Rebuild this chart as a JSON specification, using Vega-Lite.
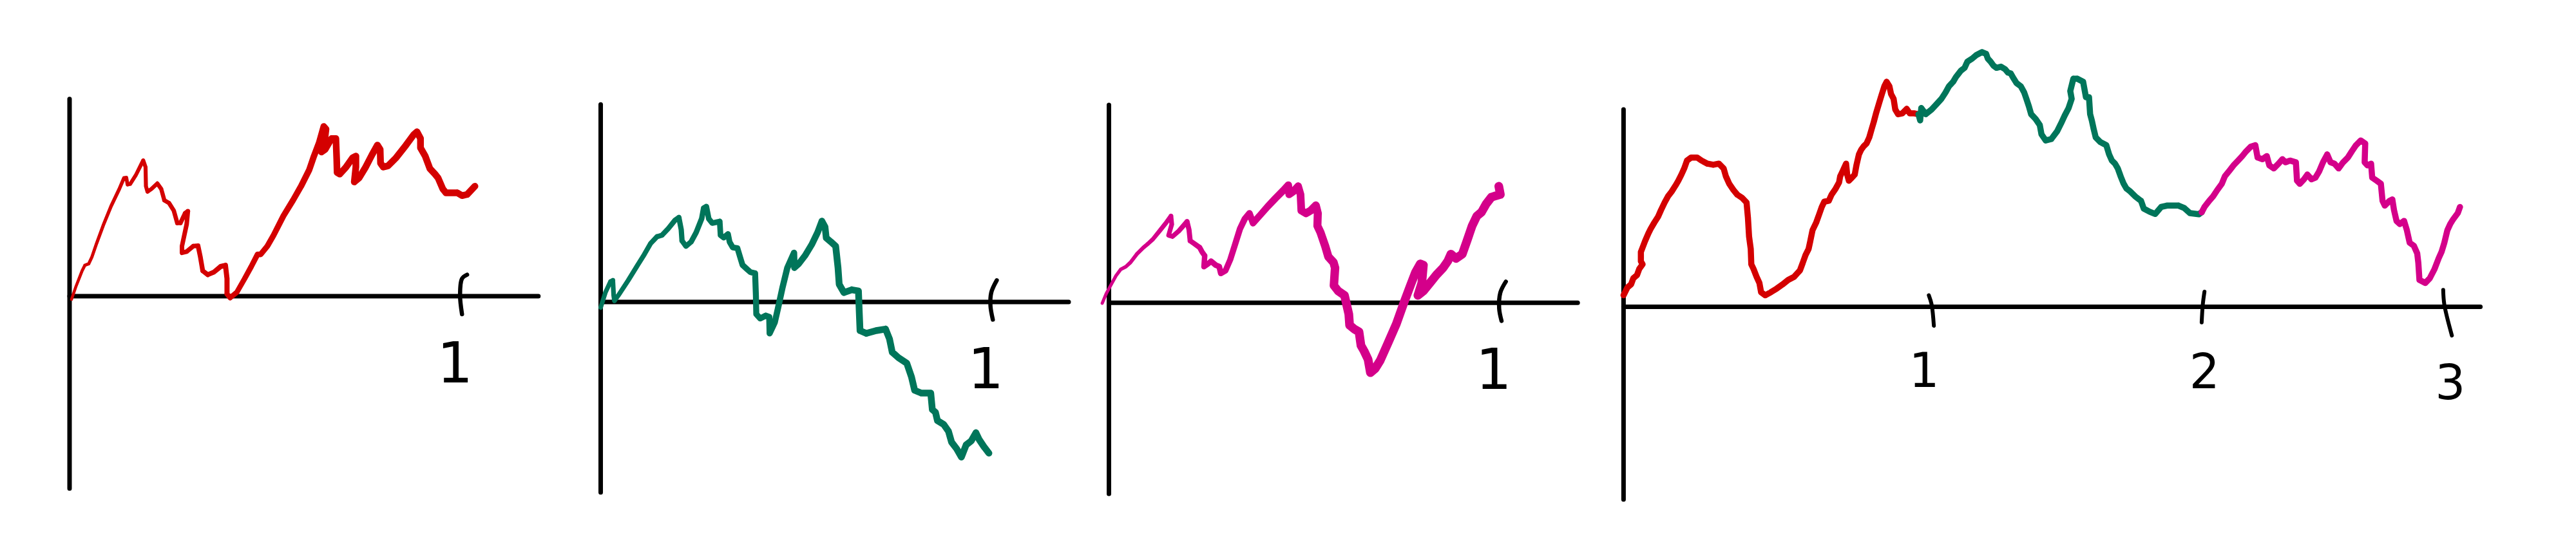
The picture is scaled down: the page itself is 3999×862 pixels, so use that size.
{
  "$schema": "https://vega.github.io/schema/vega-lite/v6.json",
  "padding": 0,
  "spacing": 0,
  "background": "white",
  "config": {"view": {"stroke": null}},
  "resolve": {"scale": {"x": "independent", "y": "independent", "size": "independent"}},
  "datasets": {
    "path1": [
      {"i":0,"t":0.005,"b":-0.008,"s":"1"},{"i":1,"t":0.016,"b":0.024,"s":"1"},{"i":2,"t":0.032,"b":0.065,"s":"1"},{"i":3,"t":0.039,"b":0.079,"s":"1"},
      {"i":4,"t":0.049,"b":0.083,"s":"1"},{"i":5,"t":0.057,"b":0.100,"s":"1"},{"i":6,"t":0.069,"b":0.135,"s":"1"},{"i":7,"t":0.086,"b":0.181,"s":"1"},
      {"i":8,"t":0.106,"b":0.230,"s":"1"},{"i":9,"t":0.127,"b":0.274,"s":"1"},{"i":10,"t":0.139,"b":0.302,"s":"1"},{"i":11,"t":0.145,"b":0.303,"s":"1"},
      {"i":12,"t":0.148,"b":0.285,"s":"1"},{"i":13,"t":0.155,"b":0.287,"s":"1"},{"i":14,"t":0.169,"b":0.309,"s":"1"},{"i":15,"t":0.188,"b":0.347,"s":"1"},
      {"i":16,"t":0.194,"b":0.330,"s":"1"},{"i":17,"t":0.195,"b":0.281,"s":"1"},{"i":18,"t":0.199,"b":0.267,"s":"1"},{"i":19,"t":0.209,"b":0.274,"s":"1"},
      {"i":20,"t":0.224,"b":0.288,"s":"1"},{"i":21,"t":0.234,"b":0.274,"s":"1"},{"i":22,"t":0.242,"b":0.245,"s":"1"},{"i":23,"t":0.254,"b":0.238,"s":"1"},
      {"i":24,"t":0.266,"b":0.219,"s":"1"},{"i":25,"t":0.275,"b":0.187,"s":"1"},{"i":26,"t":0.283,"b":0.187,"s":"1"},{"i":27,"t":0.295,"b":0.212,"s":"1"},
      {"i":28,"t":0.302,"b":0.217,"s":"1"},{"i":29,"t":0.299,"b":0.184,"s":"1"},{"i":30,"t":0.287,"b":0.128,"s":"1"},{"i":31,"t":0.287,"b":0.111,"s":"1"},
      {"i":32,"t":0.299,"b":0.114,"s":"1"},{"i":33,"t":0.316,"b":0.128,"s":"1"},{"i":34,"t":0.328,"b":0.129,"s":"1"},{"i":35,"t":0.334,"b":0.100,"s":"1"},
      {"i":36,"t":0.340,"b":0.065,"s":"1"},{"i":37,"t":0.353,"b":0.055,"s":"1"},{"i":38,"t":0.369,"b":0.062,"s":"1"},{"i":39,"t":0.386,"b":0.076,"s":"1"},
      {"i":40,"t":0.398,"b":0.079,"s":"1"},{"i":41,"t":0.402,"b":0.045,"s":"1"},{"i":42,"t":0.402,"b":0.006,"s":"1"},{"i":43,"t":0.410,"b":-0.004,"s":"1"},
      {"i":44,"t":0.427,"b":0.010,"s":"1"},{"i":45,"t":0.447,"b":0.045,"s":"1"},{"i":46,"t":0.464,"b":0.076,"s":"1"},{"i":47,"t":0.480,"b":0.107,"s":"1"},
      {"i":48,"t":0.488,"b":0.107,"s":"1"},{"i":49,"t":0.505,"b":0.128,"s":"1"},{"i":50,"t":0.521,"b":0.156,"s":"1"},{"i":51,"t":0.546,"b":0.205,"s":"1"},
      {"i":52,"t":0.571,"b":0.246,"s":"1"},{"i":53,"t":0.591,"b":0.281,"s":"1"},{"i":54,"t":0.612,"b":0.323,"s":"1"},{"i":55,"t":0.624,"b":0.358,"s":"1"},
      {"i":56,"t":0.637,"b":0.392,"s":"1"},{"i":57,"t":0.649,"b":0.434,"s":"1"},{"i":58,"t":0.655,"b":0.427,"s":"1"},{"i":59,"t":0.651,"b":0.392,"s":"1"},
      {"i":60,"t":0.643,"b":0.368,"s":"1"},{"i":61,"t":0.653,"b":0.375,"s":"1"},{"i":62,"t":0.669,"b":0.403,"s":"1"},{"i":63,"t":0.680,"b":0.403,"s":"1"},
      {"i":64,"t":0.682,"b":0.351,"s":"1"},{"i":65,"t":0.683,"b":0.316,"s":"1"},{"i":66,"t":0.690,"b":0.312,"s":"1"},{"i":67,"t":0.706,"b":0.330,"s":"1"},
      {"i":68,"t":0.723,"b":0.354,"s":"1"},{"i":69,"t":0.731,"b":0.358,"s":"1"},{"i":70,"t":0.731,"b":0.330,"s":"1"},{"i":71,"t":0.727,"b":0.292,"s":"1"},
      {"i":72,"t":0.739,"b":0.302,"s":"1"},{"i":73,"t":0.756,"b":0.330,"s":"1"},{"i":74,"t":0.772,"b":0.361,"s":"1"},{"i":75,"t":0.786,"b":0.386,"s":"1"},
      {"i":76,"t":0.793,"b":0.375,"s":"1"},{"i":77,"t":0.794,"b":0.340,"s":"1"},{"i":78,"t":0.801,"b":0.330,"s":"1"},{"i":79,"t":0.813,"b":0.333,"s":"1"},
      {"i":80,"t":0.834,"b":0.354,"s":"1"},{"i":81,"t":0.859,"b":0.386,"s":"1"},{"i":82,"t":0.879,"b":0.413,"s":"1"},{"i":83,"t":0.887,"b":0.420,"s":"1"},
      {"i":84,"t":0.896,"b":0.403,"s":"1"},{"i":85,"t":0.896,"b":0.379,"s":"1"},{"i":86,"t":0.908,"b":0.358,"s":"1"},{"i":87,"t":0.920,"b":0.326,"s":"1"},
      {"i":88,"t":0.933,"b":0.312,"s":"1"},{"i":89,"t":0.941,"b":0.302,"s":"1"},{"i":90,"t":0.953,"b":0.274,"s":"1"},{"i":91,"t":0.961,"b":0.264,"s":"1"},
      {"i":92,"t":0.990,"b":0.264,"s":"1"},{"i":93,"t":1.002,"b":0.257,"s":"1"},{"i":94,"t":1.015,"b":0.260,"s":"1"},{"i":95,"t":1.035,"b":0.281,"s":"1"}
    ],
    "path2": [
      {"i":0,"t":0.000,"b":-0.014,"s":"2"},{"i":1,"t":0.012,"b":0.024,"s":"2"},{"i":2,"t":0.025,"b":0.052,"s":"2"},{"i":3,"t":0.031,"b":0.055,"s":"2"},
      {"i":4,"t":0.033,"b":0.017,"s":"2"},{"i":5,"t":0.035,"b":0.003,"s":"2"},{"i":6,"t":0.045,"b":0.017,"s":"2"},{"i":7,"t":0.070,"b":0.055,"s":"2"},
      {"i":8,"t":0.094,"b":0.094,"s":"2"},{"i":9,"t":0.111,"b":0.121,"s":"2"},{"i":10,"t":0.127,"b":0.149,"s":"2"},{"i":11,"t":0.143,"b":0.166,"s":"2"},
      {"i":12,"t":0.156,"b":0.170,"s":"2"},{"i":13,"t":0.172,"b":0.187,"s":"2"},{"i":14,"t":0.189,"b":0.208,"s":"2"},{"i":15,"t":0.199,"b":0.215,"s":"2"},
      {"i":16,"t":0.205,"b":0.184,"s":"2"},{"i":17,"t":0.207,"b":0.156,"s":"2"},{"i":18,"t":0.217,"b":0.142,"s":"2"},{"i":19,"t":0.230,"b":0.153,"s":"2"},
      {"i":20,"t":0.243,"b":0.177,"s":"2"},{"i":21,"t":0.257,"b":0.212,"s":"2"},{"i":22,"t":0.262,"b":0.239,"s":"2"},{"i":23,"t":0.269,"b":0.243,"s":"2"},
      {"i":24,"t":0.275,"b":0.212,"s":"2"},{"i":25,"t":0.284,"b":0.201,"s":"2"},{"i":26,"t":0.303,"b":0.205,"s":"2"},{"i":27,"t":0.305,"b":0.170,"s":"2"},
      {"i":28,"t":0.313,"b":0.164,"s":"2"},{"i":29,"t":0.324,"b":0.173,"s":"2"},{"i":30,"t":0.328,"b":0.153,"s":"2"},{"i":31,"t":0.336,"b":0.139,"s":"2"},
      {"i":32,"t":0.348,"b":0.137,"s":"2"},{"i":33,"t":0.357,"b":0.107,"s":"2"},{"i":34,"t":0.361,"b":0.094,"s":"2"},{"i":35,"t":0.373,"b":0.083,"s":"2"},
      {"i":36,"t":0.381,"b":0.076,"s":"2"},{"i":37,"t":0.393,"b":0.073,"s":"2"},{"i":38,"t":0.395,"b":0.017,"s":"2"},{"i":39,"t":0.396,"b":-0.031,"s":"2"},
      {"i":40,"t":0.406,"b":-0.042,"s":"2"},{"i":41,"t":0.420,"b":-0.035,"s":"2"},{"i":42,"t":0.429,"b":-0.038,"s":"2"},{"i":43,"t":0.430,"b":-0.080,"s":"2"},
      {"i":44,"t":0.443,"b":-0.052,"s":"2"},{"i":45,"t":0.451,"b":-0.017,"s":"2"},{"i":46,"t":0.463,"b":0.038,"s":"2"},{"i":47,"t":0.475,"b":0.087,"s":"2"},
      {"i":48,"t":0.492,"b":0.125,"s":"2"},{"i":49,"t":0.493,"b":0.087,"s":"2"},{"i":50,"t":0.504,"b":0.097,"s":"2"},{"i":51,"t":0.520,"b":0.118,"s":"2"},
      {"i":52,"t":0.537,"b":0.146,"s":"2"},{"i":53,"t":0.552,"b":0.177,"s":"2"},{"i":54,"t":0.563,"b":0.206,"s":"2"},{"i":55,"t":0.571,"b":0.191,"s":"2"},
      {"i":56,"t":0.574,"b":0.163,"s":"2"},{"i":57,"t":0.586,"b":0.153,"s":"2"},{"i":58,"t":0.598,"b":0.142,"s":"2"},{"i":59,"t":0.604,"b":0.087,"s":"2"},
      {"i":60,"t":0.607,"b":0.045,"s":"2"},{"i":61,"t":0.619,"b":0.024,"s":"2"},{"i":62,"t":0.639,"b":0.031,"s":"2"},{"i":63,"t":0.656,"b":0.028,"s":"2"},
      {"i":64,"t":0.658,"b":-0.024,"s":"2"},{"i":65,"t":0.660,"b":-0.073,"s":"2"},{"i":66,"t":0.676,"b":-0.080,"s":"2"},{"i":67,"t":0.701,"b":-0.073,"s":"2"},
      {"i":68,"t":0.725,"b":-0.069,"s":"2"},{"i":69,"t":0.735,"b":-0.094,"s":"2"},{"i":70,"t":0.742,"b":-0.128,"s":"2"},{"i":71,"t":0.758,"b":-0.142,"s":"2"},
      {"i":72,"t":0.779,"b":-0.156,"s":"2"},{"i":73,"t":0.791,"b":-0.191,"s":"2"},{"i":74,"t":0.799,"b":-0.225,"s":"2"},{"i":75,"t":0.816,"b":-0.232,"s":"2"},
      {"i":76,"t":0.840,"b":-0.232,"s":"2"},{"i":77,"t":0.844,"b":-0.274,"s":"2"},{"i":78,"t":0.852,"b":-0.281,"s":"2"},{"i":79,"t":0.857,"b":-0.302,"s":"2"},
      {"i":80,"t":0.873,"b":-0.312,"s":"2"},{"i":81,"t":0.885,"b":-0.329,"s":"2"},{"i":82,"t":0.893,"b":-0.357,"s":"2"},{"i":83,"t":0.906,"b":-0.374,"s":"2"},
      {"i":84,"t":0.918,"b":-0.395,"s":"2"},{"i":85,"t":0.930,"b":-0.364,"s":"2"},{"i":86,"t":0.943,"b":-0.354,"s":"2"},{"i":87,"t":0.955,"b":-0.333,"s":"2"},
      {"i":88,"t":0.963,"b":-0.350,"s":"2"},{"i":89,"t":0.975,"b":-0.368,"s":"2"},{"i":90,"t":0.988,"b":-0.385,"s":"2"}
    ],
    "path3": [
      {"i":0,"t":-0.017,"b":-0.001,"s":"3"},{"i":1,"t":-0.007,"b":0.023,"s":"3"},{"i":2,"t":0.006,"b":0.047,"s":"3"},{"i":3,"t":0.018,"b":0.069,"s":"3"},
      {"i":4,"t":0.030,"b":0.085,"s":"3"},{"i":5,"t":0.043,"b":0.092,"s":"3"},{"i":6,"t":0.055,"b":0.103,"s":"3"},{"i":7,"t":0.071,"b":0.124,"s":"3"},
      {"i":8,"t":0.088,"b":0.141,"s":"3"},{"i":9,"t":0.100,"b":0.151,"s":"3"},{"i":10,"t":0.112,"b":0.162,"s":"3"},{"i":11,"t":0.129,"b":0.183,"s":"3"},
      {"i":12,"t":0.145,"b":0.203,"s":"3"},{"i":13,"t":0.158,"b":0.221,"s":"3"},{"i":14,"t":0.160,"b":0.200,"s":"3"},{"i":15,"t":0.152,"b":0.172,"s":"3"},
      {"i":16,"t":0.162,"b":0.169,"s":"3"},{"i":17,"t":0.178,"b":0.183,"s":"3"},{"i":18,"t":0.199,"b":0.207,"s":"3"},{"i":19,"t":0.204,"b":0.186,"s":"3"},
      {"i":20,"t":0.207,"b":0.158,"s":"3"},{"i":21,"t":0.217,"b":0.151,"s":"3"},{"i":22,"t":0.231,"b":0.141,"s":"3"},{"i":23,"t":0.237,"b":0.130,"s":"3"},
      {"i":24,"t":0.244,"b":0.120,"s":"3"},{"i":25,"t":0.242,"b":0.092,"s":"3"},{"i":26,"t":0.252,"b":0.099,"s":"3"},{"i":27,"t":0.260,"b":0.106,"s":"3"},
      {"i":28,"t":0.272,"b":0.096,"s":"3"},{"i":29,"t":0.281,"b":0.092,"s":"3"},{"i":30,"t":0.285,"b":0.075,"s":"3"},{"i":31,"t":0.297,"b":0.082,"s":"3"},
      {"i":32,"t":0.309,"b":0.110,"s":"3"},{"i":33,"t":0.322,"b":0.151,"s":"3"},{"i":34,"t":0.334,"b":0.189,"s":"3"},{"i":35,"t":0.346,"b":0.214,"s":"3"},
      {"i":36,"t":0.358,"b":0.228,"s":"3"},{"i":37,"t":0.367,"b":0.203,"s":"3"},{"i":38,"t":0.383,"b":0.221,"s":"3"},{"i":39,"t":0.404,"b":0.245,"s":"3"},
      {"i":40,"t":0.424,"b":0.266,"s":"3"},{"i":41,"t":0.445,"b":0.287,"s":"3"},{"i":42,"t":0.457,"b":0.300,"s":"3"},{"i":43,"t":0.459,"b":0.276,"s":"3"},
      {"i":44,"t":0.469,"b":0.283,"s":"3"},{"i":45,"t":0.482,"b":0.297,"s":"3"},{"i":46,"t":0.488,"b":0.276,"s":"3"},{"i":47,"t":0.490,"b":0.235,"s":"3"},
      {"i":48,"t":0.502,"b":0.228,"s":"3"},{"i":49,"t":0.514,"b":0.235,"s":"3"},{"i":50,"t":0.527,"b":0.248,"s":"3"},{"i":51,"t":0.532,"b":0.228,"s":"3"},
      {"i":52,"t":0.531,"b":0.196,"s":"3"},{"i":53,"t":0.539,"b":0.179,"s":"3"},{"i":54,"t":0.551,"b":0.144,"s":"3"},{"i":55,"t":0.559,"b":0.117,"s":"3"},
      {"i":56,"t":0.572,"b":0.103,"s":"3"},{"i":57,"t":0.576,"b":0.089,"s":"3"},{"i":58,"t":0.573,"b":0.044,"s":"3"},{"i":59,"t":0.584,"b":0.030,"s":"3"},
      {"i":60,"t":0.600,"b":0.019,"s":"3"},{"i":61,"t":0.611,"b":-0.029,"s":"3"},{"i":62,"t":0.613,"b":-0.057,"s":"3"},{"i":63,"t":0.625,"b":-0.067,"s":"3"},
      {"i":64,"t":0.637,"b":-0.074,"s":"3"},{"i":65,"t":0.642,"b":-0.109,"s":"3"},{"i":66,"t":0.650,"b":-0.123,"s":"3"},{"i":67,"t":0.660,"b":-0.144,"s":"3"},
      {"i":68,"t":0.666,"b":-0.178,"s":"3"},{"i":69,"t":0.678,"b":-0.168,"s":"3"},{"i":70,"t":0.691,"b":-0.147,"s":"3"},{"i":71,"t":0.711,"b":-0.102,"s":"3"},
      {"i":72,"t":0.732,"b":-0.054,"s":"3"},{"i":73,"t":0.752,"b":0.002,"s":"3"},{"i":74,"t":0.769,"b":0.047,"s":"3"},{"i":75,"t":0.781,"b":0.078,"s":"3"},
      {"i":76,"t":0.793,"b":0.099,"s":"3"},{"i":77,"t":0.801,"b":0.096,"s":"3"},{"i":78,"t":0.797,"b":0.051,"s":"3"},{"i":79,"t":0.787,"b":0.019,"s":"3"},
      {"i":80,"t":0.801,"b":0.030,"s":"3"},{"i":81,"t":0.818,"b":0.051,"s":"3"},{"i":82,"t":0.834,"b":0.071,"s":"3"},{"i":83,"t":0.851,"b":0.089,"s":"3"},
      {"i":84,"t":0.863,"b":0.106,"s":"3"},{"i":85,"t":0.871,"b":0.124,"s":"3"},{"i":86,"t":0.884,"b":0.113,"s":"3"},{"i":87,"t":0.900,"b":0.124,"s":"3"},
      {"i":88,"t":0.912,"b":0.158,"s":"3"},{"i":89,"t":0.925,"b":0.196,"s":"3"},{"i":90,"t":0.937,"b":0.221,"s":"3"},{"i":91,"t":0.949,"b":0.231,"s":"3"},
      {"i":92,"t":0.961,"b":0.252,"s":"3"},{"i":93,"t":0.974,"b":0.269,"s":"3"},{"i":94,"t":0.986,"b":0.273,"s":"3"},{"i":95,"t":0.997,"b":0.276,"s":"3"},
      {"i":96,"t":0.993,"b":0.297,"s":"3"}
    ],
    "path4": [
      {"i":0,"t":0.000,"b":0.041,"s":"1"},{"i":1,"t":0.014,"b":0.069,"s":"1"},{"i":2,"t":0.027,"b":0.080,"s":"1"},{"i":3,"t":0.035,"b":0.102,"s":"1"},
      {"i":4,"t":0.048,"b":0.113,"s":"1"},{"i":5,"t":0.056,"b":0.135,"s":"1"},{"i":6,"t":0.068,"b":0.152,"s":"1"},{"i":7,"t":0.062,"b":0.163,"s":"1"},
      {"i":8,"t":0.062,"b":0.196,"s":"1"},{"i":9,"t":0.077,"b":0.235,"s":"1"},{"i":10,"t":0.089,"b":0.263,"s":"1"},{"i":11,"t":0.097,"b":0.279,"s":"1"},
      {"i":12,"t":0.110,"b":0.301,"s":"1"},{"i":13,"t":0.124,"b":0.323,"s":"1"},{"i":14,"t":0.134,"b":0.346,"s":"1"},{"i":15,"t":0.147,"b":0.373,"s":"1"},
      {"i":16,"t":0.159,"b":0.395,"s":"1"},{"i":17,"t":0.172,"b":0.412,"s":"1"},{"i":18,"t":0.186,"b":0.434,"s":"1"},{"i":19,"t":0.196,"b":0.451,"s":"1"},
      {"i":20,"t":0.207,"b":0.473,"s":"1"},{"i":21,"t":0.217,"b":0.495,"s":"1"},{"i":22,"t":0.227,"b":0.523,"s":"1"},{"i":23,"t":0.242,"b":0.534,"s":"1"},
      {"i":24,"t":0.263,"b":0.534,"s":"1"},{"i":25,"t":0.279,"b":0.523,"s":"1"},{"i":26,"t":0.300,"b":0.512,"s":"1"},{"i":27,"t":0.321,"b":0.508,"s":"1"},
      {"i":28,"t":0.341,"b":0.512,"s":"1"},{"i":29,"t":0.358,"b":0.495,"s":"1"},{"i":30,"t":0.366,"b":0.467,"s":"1"},{"i":31,"t":0.378,"b":0.440,"s":"1"},
      {"i":32,"t":0.393,"b":0.418,"s":"1"},{"i":33,"t":0.407,"b":0.401,"s":"1"},{"i":34,"t":0.424,"b":0.390,"s":"1"},{"i":35,"t":0.440,"b":0.373,"s":"1"},
      {"i":36,"t":0.445,"b":0.318,"s":"1"},{"i":37,"t":0.449,"b":0.251,"s":"1"},{"i":38,"t":0.455,"b":0.207,"s":"1"},{"i":39,"t":0.457,"b":0.152,"s":"1"},
      {"i":40,"t":0.465,"b":0.135,"s":"1"},{"i":41,"t":0.476,"b":0.107,"s":"1"},{"i":42,"t":0.486,"b":0.085,"s":"1"},{"i":43,"t":0.492,"b":0.052,"s":"1"},
      {"i":44,"t":0.507,"b":0.041,"s":"1"},{"i":45,"t":0.527,"b":0.052,"s":"1"},{"i":46,"t":0.548,"b":0.065,"s":"1"},{"i":47,"t":0.569,"b":0.080,"s":"1"},
      {"i":48,"t":0.589,"b":0.096,"s":"1"},{"i":49,"t":0.610,"b":0.107,"s":"1"},{"i":50,"t":0.631,"b":0.130,"s":"1"},{"i":51,"t":0.641,"b":0.157,"s":"1"},
      {"i":52,"t":0.651,"b":0.185,"s":"1"},{"i":53,"t":0.662,"b":0.207,"s":"1"},{"i":54,"t":0.668,"b":0.235,"s":"1"},{"i":55,"t":0.676,"b":0.274,"s":"1"},
      {"i":56,"t":0.689,"b":0.301,"s":"1"},{"i":57,"t":0.697,"b":0.323,"s":"1"},{"i":58,"t":0.709,"b":0.357,"s":"1"},{"i":59,"t":0.718,"b":0.376,"s":"1"},
      {"i":60,"t":0.734,"b":0.379,"s":"1"},{"i":61,"t":0.744,"b":0.401,"s":"1"},{"i":62,"t":0.759,"b":0.423,"s":"1"},{"i":63,"t":0.771,"b":0.445,"s":"1"},
      {"i":64,"t":0.775,"b":0.467,"s":"1"},{"i":65,"t":0.786,"b":0.490,"s":"1"},{"i":66,"t":0.796,"b":0.512,"s":"1"},{"i":67,"t":0.800,"b":0.473,"s":"1"},
      {"i":68,"t":0.806,"b":0.451,"s":"1"},{"i":69,"t":0.817,"b":0.462,"s":"1"},{"i":70,"t":0.827,"b":0.473,"s":"1"},{"i":71,"t":0.833,"b":0.506,"s":"1"},
      {"i":72,"t":0.842,"b":0.545,"s":"1"},{"i":73,"t":0.850,"b":0.562,"s":"1"},{"i":74,"t":0.858,"b":0.573,"s":"1"},{"i":75,"t":0.869,"b":0.584,"s":"1"},
      {"i":76,"t":0.879,"b":0.606,"s":"1"},{"i":77,"t":0.887,"b":0.634,"s":"1"},{"i":78,"t":0.895,"b":0.661,"s":"1"},{"i":79,"t":0.904,"b":0.695,"s":"1"},
      {"i":80,"t":0.914,"b":0.728,"s":"1"},{"i":81,"t":0.924,"b":0.761,"s":"1"},{"i":82,"t":0.933,"b":0.789,"s":"1"},{"i":83,"t":0.941,"b":0.805,"s":"1"},
      {"i":84,"t":0.951,"b":0.789,"s":"1"},{"i":85,"t":0.957,"b":0.761,"s":"1"},{"i":86,"t":0.966,"b":0.744,"s":"1"},{"i":87,"t":0.972,"b":0.706,"s":"1"},
      {"i":88,"t":0.982,"b":0.689,"s":"1"},{"i":89,"t":0.997,"b":0.692,"s":"1"},{"i":90,"t":1.013,"b":0.708,"s":"1"},{"i":91,"t":1.024,"b":0.692,"s":"1"},
      {"i":92,"t":1.040,"b":0.692,"s":"1"},{"i":93,"t":1.055,"b":0.689,"s":"1"},
      {"i":94,"t":1.055,"b":0.689,"s":"2"},{"i":95,"t":1.061,"b":0.667,"s":"2"},{"i":96,"t":1.065,"b":0.711,"s":"2"},{"i":97,"t":1.081,"b":0.689,"s":"2"},
      {"i":98,"t":1.102,"b":0.706,"s":"2"},{"i":99,"t":1.117,"b":0.722,"s":"2"},{"i":100,"t":1.137,"b":0.744,"s":"2"},{"i":101,"t":1.152,"b":0.767,"s":"2"},
      {"i":102,"t":1.164,"b":0.789,"s":"2"},{"i":103,"t":1.179,"b":0.805,"s":"2"},{"i":104,"t":1.189,"b":0.822,"s":"2"},{"i":105,"t":1.206,"b":0.844,"s":"2"},
      {"i":106,"t":1.220,"b":0.855,"s":"2"},{"i":107,"t":1.230,"b":0.877,"s":"2"},{"i":108,"t":1.247,"b":0.888,"s":"2"},{"i":109,"t":1.261,"b":0.900,"s":"2"},
      {"i":110,"t":1.282,"b":0.911,"s":"2"},{"i":111,"t":1.297,"b":0.905,"s":"2"},{"i":112,"t":1.303,"b":0.888,"s":"2"},{"i":113,"t":1.313,"b":0.877,"s":"2"},
      {"i":114,"t":1.323,"b":0.863,"s":"2"},{"i":115,"t":1.334,"b":0.855,"s":"2"},{"i":116,"t":1.350,"b":0.859,"s":"2"},{"i":117,"t":1.365,"b":0.850,"s":"2"},
      {"i":118,"t":1.375,"b":0.838,"s":"2"},{"i":119,"t":1.385,"b":0.835,"s":"2"},{"i":120,"t":1.396,"b":0.816,"s":"2"},{"i":121,"t":1.406,"b":0.800,"s":"2"},
      {"i":122,"t":1.421,"b":0.789,"s":"2"},{"i":123,"t":1.433,"b":0.767,"s":"2"},{"i":124,"t":1.441,"b":0.744,"s":"2"},{"i":125,"t":1.450,"b":0.717,"s":"2"},
      {"i":126,"t":1.458,"b":0.689,"s":"2"},{"i":127,"t":1.474,"b":0.672,"s":"2"},{"i":128,"t":1.489,"b":0.650,"s":"2"},{"i":129,"t":1.495,"b":0.617,"s":"2"},
      {"i":130,"t":1.510,"b":0.595,"s":"2"},{"i":131,"t":1.530,"b":0.600,"s":"2"},{"i":132,"t":1.551,"b":0.628,"s":"2"},{"i":133,"t":1.565,"b":0.656,"s":"2"},
      {"i":134,"t":1.578,"b":0.684,"s":"2"},{"i":135,"t":1.592,"b":0.711,"s":"2"},{"i":136,"t":1.603,"b":0.744,"s":"2"},{"i":137,"t":1.598,"b":0.772,"s":"2"},
      {"i":138,"t":1.609,"b":0.816,"s":"2"},{"i":139,"t":1.623,"b":0.816,"s":"2"},{"i":140,"t":1.644,"b":0.805,"s":"2"},{"i":141,"t":1.654,"b":0.750,"s":"2"},
      {"i":142,"t":1.665,"b":0.750,"s":"2"},{"i":143,"t":1.669,"b":0.689,"s":"2"},{"i":144,"t":1.675,"b":0.667,"s":"2"},{"i":145,"t":1.681,"b":0.639,"s":"2"},
      {"i":146,"t":1.689,"b":0.606,"s":"2"},{"i":147,"t":1.706,"b":0.589,"s":"2"},{"i":148,"t":1.727,"b":0.578,"s":"2"},{"i":149,"t":1.737,"b":0.545,"s":"2"},
      {"i":150,"t":1.747,"b":0.523,"s":"2"},{"i":151,"t":1.758,"b":0.512,"s":"2"},{"i":152,"t":1.768,"b":0.495,"s":"2"},{"i":153,"t":1.778,"b":0.467,"s":"2"},
      {"i":154,"t":1.789,"b":0.440,"s":"2"},{"i":155,"t":1.799,"b":0.423,"s":"2"},{"i":156,"t":1.813,"b":0.412,"s":"2"},{"i":157,"t":1.830,"b":0.395,"s":"2"},
      {"i":158,"t":1.851,"b":0.379,"s":"2"},{"i":159,"t":1.861,"b":0.351,"s":"2"},{"i":160,"t":1.882,"b":0.340,"s":"2"},{"i":161,"t":1.902,"b":0.332,"s":"2"},
      {"i":162,"t":1.923,"b":0.357,"s":"2"},{"i":163,"t":1.944,"b":0.362,"s":"2"},{"i":164,"t":1.985,"b":0.362,"s":"2"},{"i":165,"t":2.006,"b":0.353,"s":"2"},
      {"i":166,"t":2.026,"b":0.335,"s":"2"},{"i":167,"t":2.058,"b":0.331,"s":"2"},{"i":168,"t":2.068,"b":0.338,"s":"2"},
      {"i":169,"t":2.068,"b":0.338,"s":"3"},{"i":170,"t":2.078,"b":0.357,"s":"3"},{"i":171,"t":2.095,"b":0.379,"s":"3"},{"i":172,"t":2.109,"b":0.395,"s":"3"},
      {"i":173,"t":2.124,"b":0.418,"s":"3"},{"i":174,"t":2.140,"b":0.440,"s":"3"},{"i":175,"t":2.151,"b":0.467,"s":"3"},{"i":176,"t":2.165,"b":0.484,"s":"3"},
      {"i":177,"t":2.182,"b":0.506,"s":"3"},{"i":178,"t":2.198,"b":0.523,"s":"3"},{"i":179,"t":2.213,"b":0.539,"s":"3"},{"i":180,"t":2.227,"b":0.556,"s":"3"},
      {"i":181,"t":2.244,"b":0.573,"s":"3"},{"i":182,"t":2.260,"b":0.578,"s":"3"},{"i":183,"t":2.268,"b":0.534,"s":"3"},{"i":184,"t":2.285,"b":0.528,"s":"3"},
      {"i":185,"t":2.301,"b":0.539,"s":"3"},{"i":186,"t":2.310,"b":0.506,"s":"3"},{"i":187,"t":2.326,"b":0.495,"s":"3"},{"i":188,"t":2.343,"b":0.512,"s":"3"},
      {"i":189,"t":2.357,"b":0.528,"s":"3"},{"i":190,"t":2.368,"b":0.517,"s":"3"},{"i":191,"t":2.384,"b":0.523,"s":"3"},{"i":192,"t":2.405,"b":0.517,"s":"3"},
      {"i":193,"t":2.409,"b":0.451,"s":"3"},{"i":194,"t":2.419,"b":0.440,"s":"3"},{"i":195,"t":2.434,"b":0.456,"s":"3"},{"i":196,"t":2.446,"b":0.473,"s":"3"},
      {"i":197,"t":2.461,"b":0.456,"s":"3"},{"i":198,"t":2.475,"b":0.462,"s":"3"},{"i":199,"t":2.488,"b":0.484,"s":"3"},{"i":200,"t":2.502,"b":0.517,"s":"3"},
      {"i":201,"t":2.517,"b":0.545,"s":"3"},{"i":202,"t":2.529,"b":0.517,"s":"3"},{"i":203,"t":2.543,"b":0.512,"s":"3"},{"i":204,"t":2.558,"b":0.495,"s":"3"},
      {"i":205,"t":2.574,"b":0.517,"s":"3"},{"i":206,"t":2.591,"b":0.534,"s":"3"},{"i":207,"t":2.605,"b":0.556,"s":"3"},{"i":208,"t":2.620,"b":0.578,"s":"3"},
      {"i":209,"t":2.637,"b":0.595,"s":"3"},{"i":210,"t":2.653,"b":0.584,"s":"3"},{"i":211,"t":2.651,"b":0.517,"s":"3"},{"i":212,"t":2.661,"b":0.506,"s":"3"},
      {"i":213,"t":2.674,"b":0.512,"s":"3"},{"i":214,"t":2.678,"b":0.462,"s":"3"},{"i":215,"t":2.694,"b":0.451,"s":"3"},{"i":216,"t":2.709,"b":0.440,"s":"3"},
      {"i":217,"t":2.715,"b":0.379,"s":"3"},{"i":218,"t":2.723,"b":0.362,"s":"3"},{"i":219,"t":2.740,"b":0.379,"s":"3"},{"i":220,"t":2.750,"b":0.384,"s":"3"},
      {"i":221,"t":2.756,"b":0.346,"s":"3"},{"i":222,"t":2.765,"b":0.307,"s":"3"},{"i":223,"t":2.777,"b":0.296,"s":"3"},{"i":224,"t":2.792,"b":0.307,"s":"3"},
      {"i":225,"t":2.802,"b":0.274,"s":"3"},{"i":226,"t":2.812,"b":0.229,"s":"3"},{"i":227,"t":2.827,"b":0.218,"s":"3"},{"i":228,"t":2.839,"b":0.191,"s":"3"},
      {"i":229,"t":2.843,"b":0.157,"s":"3"},{"i":230,"t":2.847,"b":0.096,"s":"3"},{"i":231,"t":2.868,"b":0.085,"s":"3"},{"i":232,"t":2.884,"b":0.102,"s":"3"},
      {"i":233,"t":2.901,"b":0.135,"s":"3"},{"i":234,"t":2.916,"b":0.174,"s":"3"},{"i":235,"t":2.926,"b":0.196,"s":"3"},{"i":236,"t":2.936,"b":0.229,"s":"3"},
      {"i":237,"t":2.947,"b":0.274,"s":"3"},{"i":238,"t":2.957,"b":0.296,"s":"3"},{"i":239,"t":2.967,"b":0.312,"s":"3"},{"i":240,"t":2.984,"b":0.335,"s":"3"},
      {"i":241,"t":2.992,"b":0.357,"s":"3"}
    ],
    "axes1": [{"t":0,"b":-0.491,"t2":0,"b2":0.504},{"t":0,"b":0,"t2":1.197,"b2":0}],
    "axes2": [{"t":0,"b":-0.485,"t2":0,"b2":0.503},{"t":0,"b":0,"t2":1.191,"b2":0}],
    "axes3": [{"t":0,"b":-0.487,"t2":0,"b2":0.504},{"t":0,"b":0,"t2":1.194,"b2":0}],
    "axes4": [{"t":0,"b":-0.690,"t2":0,"b2":0.706},{"t":0,"b":0,"t2":3.065,"b2":0}],
    "ticks1": [{"k":1,"i":0,"t":1.015,"b":0.055},{"k":1,"i":1,"t":1.002,"b":0.045},{"k":1,"i":2,"t":0.997,"b":0.003},{"k":1,"i":3,"t":1.002,"b":-0.046}],
    "ticks2": [{"k":1,"i":0,"t":1.008,"b":0.055},{"k":1,"i":1,"t":0.994,"b":0.024},{"k":1,"i":2,"t":0.992,"b":-0.010},{"k":1,"i":3,"t":0.998,"b":-0.045}],
    "ticks3": [{"k":1,"i":0,"t":1.011,"b":0.054},{"k":1,"i":1,"t":0.997,"b":0.026},{"k":1,"i":2,"t":0.994,"b":-0.015},{"k":1,"i":3,"t":1.000,"b":-0.046}],
    "ticks4": [
      {"k":1,"i":0,"t":1.092,"b":0.041},{"k":1,"i":1,"t":1.102,"b":0.008},{"k":1,"i":2,"t":1.110,"b":-0.068},
      {"k":2,"i":0,"t":2.078,"b":0.054},{"k":2,"i":1,"t":2.072,"b":0.008},{"k":2,"i":2,"t":2.068,"b":-0.056},
      {"k":3,"i":0,"t":2.932,"b":0.060},{"k":3,"i":1,"t":2.936,"b":0.008},{"k":3,"i":2,"t":2.963,"b":-0.103}
    ],
    "labels1": [{"t":0.984,"b":-0.178,"label":"1"}],
    "labels2": [{"t":0.980,"b":-0.177,"label":"1"}],
    "labels3": [{"t":0.980,"b":-0.176,"label":"1"}],
    "labels4": [{"t":1.075,"b":-0.236,"label":"1"},{"t":2.078,"b":-0.241,"label":"2"},{"t":2.957,"b":-0.280,"label":"3"}]
  },
  "hconcat": [
    {
      "width": 880, "height": 862,
      "encoding": {
        "x": {"field": "t", "type": "quantitative", "scale": {"domain": [-0.1776, 1.2697], "nice": false, "zero": false}, "axis": null},
        "y": {"field": "b", "type": "quantitative", "scale": {"domain": [-0.661, 0.7567], "nice": false, "zero": false}, "axis": null}
      },
      "layer": [
        {"data": {"name": "axes1"}, "mark": {"type": "rule", "color": "black", "strokeWidth": 7, "strokeCap": "round"},
         "encoding": {"x2": {"field": "t2"}, "y2": {"field": "b2"}}},
        {"data": {"name": "ticks1"}, "mark": {"type": "line", "color": "black", "strokeWidth": 6.5, "strokeCap": "round", "interpolate": "catmull-rom"},
         "encoding": {"detail": {"field": "k"}, "order": {"field": "i"}}},
        {"data": {"name": "path1"}, "mark": {"type": "trail"},
         "encoding": {
           "order": {"field": "i"},
           "color": {"field": "s", "type": "nominal", "scale": {"domain": ["1", "2", "3"], "range": ["#d40000", "#00755a", "#d4008a"]}, "legend": null},
           "size": {"field": "t", "type": "quantitative", "scale": {"domain": [0, 0.7], "range": [4.5, 10.5], "clamp": true}, "legend": null}
         }},
        {"data": {"name": "labels1"}, "mark": {"type": "text", "font": "DejaVu Sans", "fontSize": 88, "align": "center", "baseline": "middle", "color": "black"},
         "encoding": {"text": {"field": "label"}}}
      ]
    },
    {
      "width": 810, "height": 862,
      "encoding": {
        "x": {"field": "t", "type": "quantitative", "scale": {"domain": [-0.0861, 1.2418], "nice": false, "zero": false}, "axis": null},
        "y": {"field": "b", "type": "quantitative", "scale": {"domain": [-0.6443, 0.7689], "nice": false, "zero": false}, "axis": null}
      },
      "layer": [
        {"data": {"name": "axes2"}, "mark": {"type": "rule", "color": "black", "strokeWidth": 7, "strokeCap": "round"},
         "encoding": {"x2": {"field": "t2"}, "y2": {"field": "b2"}}},
        {"data": {"name": "ticks2"}, "mark": {"type": "line", "color": "black", "strokeWidth": 6.5, "strokeCap": "round", "interpolate": "catmull-rom"},
         "encoding": {"detail": {"field": "k"}, "order": {"field": "i"}}},
        {"data": {"name": "path2"}, "mark": {"type": "trail"},
         "encoding": {
           "order": {"field": "i"},
           "color": {"field": "s", "type": "nominal", "scale": {"domain": ["1", "2", "3"], "range": ["#d40000", "#00755a", "#d4008a"]}, "legend": null},
           "size": {"field": "t", "type": "quantitative", "scale": {"domain": [0, 0.6], "range": [7, 10.5], "clamp": true}, "legend": null}
         }},
        {"data": {"name": "labels2"}, "mark": {"type": "text", "font": "DejaVu Sans", "fontSize": 88, "align": "center", "baseline": "middle", "color": "black"},
         "encoding": {"text": {"field": "label"}}}
      ]
    },
    {
      "width": 790, "height": 862,
      "encoding": {
        "x": {"field": "t", "type": "quantitative", "scale": {"domain": [-0.0517, 1.2445], "nice": false, "zero": false}, "axis": null},
        "y": {"field": "b", "type": "quantitative", "scale": {"domain": [-0.6427, 0.7716], "nice": false, "zero": false}, "axis": null}
      },
      "layer": [
        {"data": {"name": "axes3"}, "mark": {"type": "rule", "color": "black", "strokeWidth": 7, "strokeCap": "round"},
         "encoding": {"x2": {"field": "t2"}, "y2": {"field": "b2"}}},
        {"data": {"name": "ticks3"}, "mark": {"type": "line", "color": "black", "strokeWidth": 6.5, "strokeCap": "round", "interpolate": "catmull-rom"},
         "encoding": {"detail": {"field": "k"}, "order": {"field": "i"}}},
        {"data": {"name": "path3"}, "mark": {"type": "trail"},
         "encoding": {
           "order": {"field": "i"},
           "color": {"field": "s", "type": "nominal", "scale": {"domain": ["1", "2", "3"], "range": ["#d40000", "#00755a", "#d4008a"]}, "legend": null},
           "size": {"field": "t", "type": "quantitative", "scale": {"domain": [0, 0.6], "range": [5, 13.5], "clamp": true}, "legend": null}
         }},
        {"data": {"name": "labels3"}, "mark": {"type": "text", "font": "DejaVu Sans", "fontSize": 88, "align": "center", "baseline": "middle", "color": "black"},
         "encoding": {"text": {"field": "label"}}}
      ]
    },
    {
      "width": 1519, "height": 862,
      "encoding": {
        "x": {"field": "t", "type": "quantitative", "scale": {"domain": [-0.0931, 3.407], "nice": false, "zero": false}, "axis": null},
        "y": {"field": "b", "type": "quantitative", "scale": {"domain": [-0.8885, 1.0977], "nice": false, "zero": false}, "axis": null}
      },
      "layer": [
        {"data": {"name": "axes4"}, "mark": {"type": "rule", "color": "black", "strokeWidth": 7, "strokeCap": "round"},
         "encoding": {"x2": {"field": "t2"}, "y2": {"field": "b2"}}},
        {"data": {"name": "ticks4"}, "mark": {"type": "line", "color": "black", "strokeWidth": 6, "strokeCap": "round", "interpolate": "catmull-rom"},
         "encoding": {"detail": {"field": "k"}, "order": {"field": "i"}}},
        {"data": {"name": "path4"}, "mark": {"type": "trail"},
         "encoding": {
           "order": {"field": "i"},
           "color": {"field": "s", "type": "nominal", "scale": {"domain": ["1", "2", "3"], "range": ["#d40000", "#00755a", "#d4008a"]}, "legend": null},
           "size": {"value": 9.5}
         }},
        {"data": {"name": "labels4"}, "mark": {"type": "text", "font": "DejaVu Sans", "fontSize": 74, "align": "center", "baseline": "middle", "color": "black"},
         "encoding": {"text": {"field": "label"}}}
      ]
    }
  ]
}
